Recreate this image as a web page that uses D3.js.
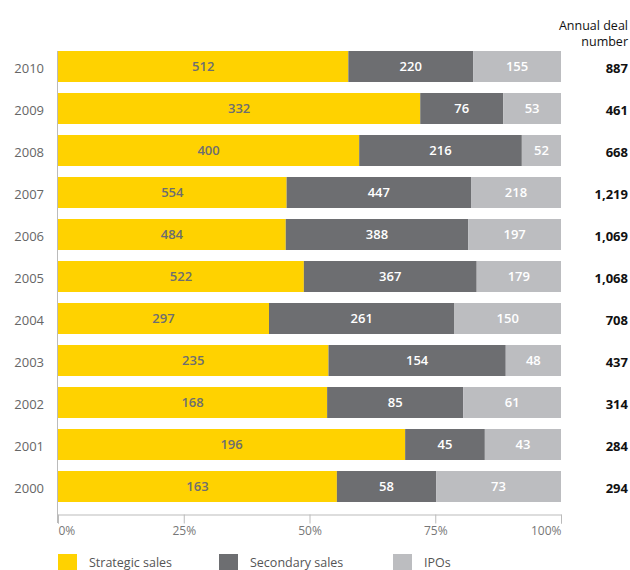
<!DOCTYPE html>
<html>
<head>
<meta charset="utf-8">
<script src="https://cdn.jsdelivr.net/npm/d3@7"></script>
<style>
  body { margin: 0; background: #fff; }
  text { font-family: "Open Sans", "Noto Sans", sans-serif; }
</style>
</head>
<body>
<div id="chart"></div>
<script>
var years = ["2010", "2009", "2008", "2007", "2006", "2005", "2004", "2003", "2002", "2001", "2000"];
var strategic = [512, 332, 400, 554, 484, 522, 297, 235, 168, 196, 163];
var secondary = [220, 76, 216, 447, 388, 367, 261, 154, 85, 45, 58];
var ipos = [155, 53, 52, 218, 197, 179, 150, 48, 61, 43, 73];
var totals = ["887", "461", "668", "1,219", "1,069", "1,068", "708", "437", "314", "284", "294"];
var seriesNames = ["Strategic sales", "Secondary sales", "IPOs"];
var tickValues = [0, 0.25, 0.5, 0.75, 1];

var colors = ["#ffd200", "#6d6e71", "#bcbdc0"];
var labelColors = ["#6d6e71", "#ffffff", "#ffffff"];

var svgWidth = 630;
var svgHeight = 570;

var svg = d3.select("#chart")
    .append("svg")
    .attr("width", svgWidth)
    .attr("height", svgHeight);

var rows = years.map(function(y, i) {
    var t = strategic[i] + secondary[i] + ipos[i];
    return { year: y, vals: [strategic[i], secondary[i], ipos[i]], sum: t, total: totals[i] };
});

var xScale = d3.scaleLinear()
    .domain([0, 1])
    .range([58, 561]);

var yScale = d3.scaleBand()
    .domain(years)
    .range([51, 502])
    .paddingInner(11 / 42)
    .paddingOuter(0);

// left axis line
svg.append("line")
    .attr("x1", xScale(0) - 0.5)
    .attr("x2", xScale(0) - 0.5)
    .attr("y1", yScale(years[0]))
    .attr("y2", 523)
    .attr("stroke", "#bbbbbb");

// bottom axis
var bottomAxis = d3.axisBottom(xScale)
    .tickValues(tickValues)
    .tickFormat(d3.format(".0%"))
    .tickSize(9)
    .tickSizeOuter(9);

var xAxis = svg.append("g")
    .attr("transform", "translate(0, 514.5)")
    .call(bottomAxis);

xAxis.selectAll("path, line").attr("stroke", "#bbbbbb");
xAxis.selectAll("text")
    .attr("fill", "#777777")
    .attr("y", 12)
    .attr("text-anchor", (d, i) => i === 0 ? "start" : (i === tickValues.length - 1 ? "end" : "middle"))
    .style("font-size", "12px")
    .style("font-family", "'Open Sans', sans-serif");

// bars
rows.forEach(function(r) {
    var x0 = 0;
    r.vals.forEach(function(v, k) {
        var x1 = x0 + v / r.sum;
        svg.append("rect")
            .attr("x", xScale(x0))
            .attr("y", yScale(r.year))
            .attr("width", xScale(x1) - xScale(x0))
            .attr("height", yScale.bandwidth())
            .attr("fill", colors[k]);
        svg.append("text")
            .attr("x", (xScale(x0) + xScale(x1)) / 2)
            .attr("y", yScale(r.year) + yScale.bandwidth() / 2)
            .attr("dy", "0.35em")
            .attr("text-anchor", "middle")
            .attr("fill", labelColors[k])
            .attr("font-size", "13px")
            .attr("font-weight", "600")
            .text(v);
        x0 = x1;
    });
});

// year labels
svg.selectAll("text.year")
    .data(rows)
    .enter()
    .append("text")
    .classed("year", true)
    .attr("x", 44)
    .attr("y", d => yScale(d.year) + yScale.bandwidth() / 2 + 2)
    .attr("dy", "0.35em")
    .attr("text-anchor", "end")
    .attr("fill", "#666666")
    .attr("font-size", "13px")
    .text(d => d.year);

// totals
svg.selectAll("text.total")
    .data(rows)
    .enter()
    .append("text")
    .classed("total", true)
    .attr("x", 628)
    .attr("y", d => yScale(d.year) + yScale.bandwidth() / 2 + 2)
    .attr("dy", "0.35em")
    .attr("text-anchor", "end")
    .attr("fill", "#111111")
    .attr("font-size", "13px")
    .attr("font-weight", "bold")
    .text(d => d.total);

svg.append("text")
    .attr("x", 628)
    .attr("y", 45)
    .attr("text-anchor", "end")
    .attr("fill", "#111111")
    .attr("font-size", "12.5px")
    .selectAll("tspan")
    .data(["Annual deal", "number"])
    .enter()
    .append("tspan")
    .attr("x", 628)
    .attr("y", (d, i) => 30 + i * 16)
    .text(d => d);

// legend
var legendX = [58, 219, 393];
var legend = svg.selectAll("g.legend")
    .data(seriesNames)
    .enter()
    .append("g")
    .classed("legend", true)
    .attr("transform", (d, i) => `translate(${legendX[i]}, 554)`);

legend.append("rect")
    .attr("width", 19)
    .attr("height", 18)
    .attr("fill", (d, i) => colors[i]);

legend.append("text")
    .attr("x", 31)
    .attr("y", 9)
    .attr("dy", "0.35em")
    .attr("fill", "#555555")
    .attr("font-size", "12.5px")
    .text(d => d);
</script>
</body>
</html>
